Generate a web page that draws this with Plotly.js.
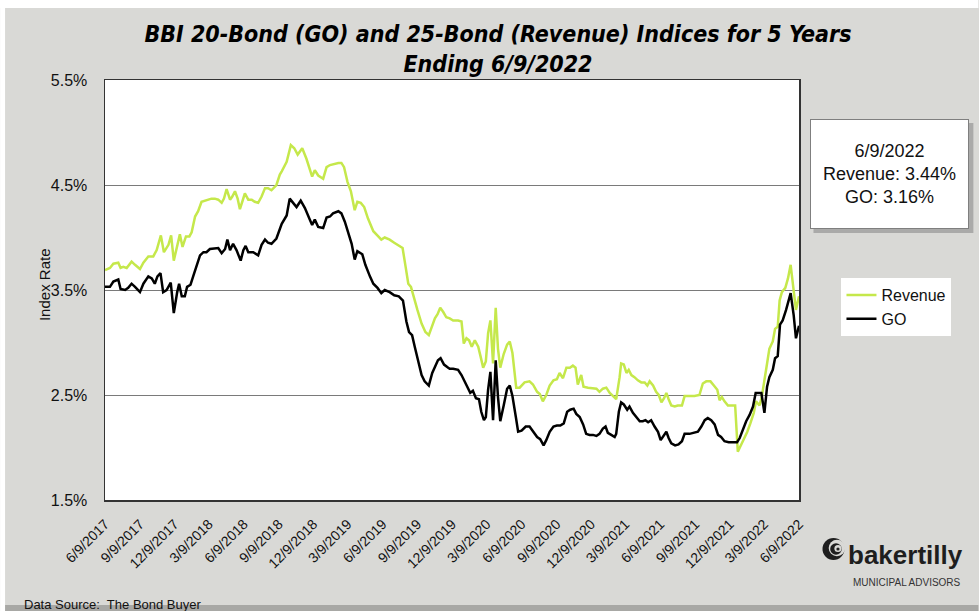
<!DOCTYPE html>
<html><head><meta charset="utf-8">
<script src="https://cdn.plot.ly/plotly-3.0.1.min.js"></script>
<style>html,body{margin:0;padding:0;background:#fff}#chart{width:979px;height:611px}</style>
</head><body><div id="chart"></div>
<script>
const seriesNames = ['Revenue', 'GO'];

const revenueDates = [
'2017-06-09','2017-06-22','2017-07-01','2017-07-14','2017-07-20','2017-07-27','2017-08-05','2017-08-18','2017-08-27','2017-09-09',
'2017-09-18','2017-10-01','2017-10-14','2017-10-23','2017-11-03','2017-11-11','2017-11-23','2017-11-30','2017-12-07','2017-12-16',
'2017-12-23','2017-12-30','2018-01-08','2018-01-17','2018-01-23','2018-02-01','2018-02-09','2018-02-18','2018-02-27','2018-03-08',
'2018-03-16','2018-03-25','2018-04-03','2018-04-12','2018-04-18','2018-04-25','2018-05-04','2018-05-10','2018-05-17','2018-05-24',
'2018-05-30','2018-06-06','2018-06-12','2018-06-21','2018-06-30','2018-07-08','2018-07-17','2018-07-26','2018-08-04','2018-08-12',
'2018-08-21','2018-09-03','2018-09-12','2018-09-17','2018-09-30','2018-10-11','2018-10-20','2018-10-29','2018-11-10','2018-11-21',
'2018-11-30','2018-12-06','2018-12-13','2018-12-22','2019-01-04','2019-01-13','2019-01-22','2019-01-30','2019-02-13','2019-02-21',
'2019-02-28','2019-03-09','2019-03-18','2019-03-28','2019-04-04','2019-04-13','2019-04-22','2019-05-02','2019-05-16','2019-05-29',
'2019-06-06','2019-06-15','2019-06-28','2019-07-10','2019-07-22','2019-08-01','2019-08-09','2019-08-16','2019-08-23','2019-08-31',
'2019-09-09','2019-09-20','2019-09-30','2019-10-09','2019-10-16','2019-10-25','2019-11-01','2019-11-08','2019-11-16','2019-11-24',
'2019-12-03','2019-12-12','2019-12-25','2020-01-03','2020-01-09','2020-01-16','2020-01-23','2020-01-30','2020-02-07','2020-02-16',
'2020-02-22','2020-02-29','2020-03-07','2020-03-13','2020-03-19','2020-03-26','2020-04-02','2020-04-08','2020-04-14','2020-04-23',
'2020-05-02','2020-05-09','2020-05-16','2020-05-26','2020-06-04','2020-06-17','2020-06-30','2020-07-09','2020-07-20','2020-07-27',
'2020-08-04','2020-08-13','2020-08-22','2020-09-01','2020-09-10','2020-09-17','2020-09-26','2020-10-05','2020-10-14','2020-10-22',
'2020-10-29','2020-11-04','2020-11-13','2020-11-19','2020-12-01','2020-12-14','2020-12-23','2020-12-31','2021-01-09','2021-01-18',
'2021-01-27','2021-02-05','2021-02-13','2021-02-22','2021-02-26','2021-03-05','2021-03-12','2021-03-18','2021-03-25','2021-04-02',
'2021-04-11','2021-04-20','2021-04-29','2021-05-06','2021-05-12','2021-05-21','2021-05-29','2021-06-05','2021-06-12','2021-06-19',
'2021-06-25','2021-07-01','2021-07-08','2021-07-17','2021-07-25','2021-08-05','2021-08-12','2021-08-25','2021-09-07','2021-09-20',
'2021-09-29','2021-10-08','2021-10-19','2021-10-28','2021-11-06','2021-11-12','2021-11-18','2021-11-25','2021-12-04','2021-12-13',
'2021-12-23','2021-12-30','2022-01-06','2022-01-15','2022-01-24','2022-02-01','2022-02-10','2022-02-16','2022-02-25','2022-03-03',
'2022-03-10','2022-03-17','2022-03-23','2022-04-01','2022-04-07','2022-04-14','2022-04-19','2022-04-25','2022-05-04','2022-05-11',
'2022-05-18','2022-05-26','2022-06-01','2022-06-09'
];
const revenueValues = [
3.69,3.71,3.75,3.76,3.71,3.72,3.71,3.77,3.74,3.70,
3.76,3.82,3.82,3.88,4.02,3.86,3.93,4.02,3.78,3.93,
4.03,3.91,4.01,4.01,4.05,4.20,4.25,4.34,4.35,4.36,
4.37,4.37,4.36,4.33,4.37,4.46,4.36,4.39,4.44,4.37,
4.27,4.35,4.42,4.36,4.36,4.34,4.33,4.39,4.47,4.47,
4.45,4.50,4.60,4.63,4.72,4.88,4.85,4.79,4.85,4.75,
4.66,4.58,4.64,4.59,4.56,4.67,4.69,4.70,4.71,4.71,
4.67,4.53,4.44,4.26,4.34,4.33,4.29,4.18,4.06,4.01,
3.98,4.00,3.98,3.95,3.92,3.90,3.72,3.56,3.53,3.42,
3.31,3.18,3.10,3.07,3.15,3.23,3.27,3.33,3.29,3.24,
3.23,3.21,3.21,3.20,2.99,3.04,3.02,2.96,3.02,2.96,
2.87,2.76,2.82,3.09,3.21,2.80,3.33,2.94,2.76,2.89,
2.98,3.01,2.90,2.57,2.57,2.62,2.63,2.60,2.53,2.51,
2.44,2.50,2.59,2.64,2.65,2.71,2.66,2.76,2.76,2.78,
2.76,2.60,2.69,2.58,2.57,2.56,2.56,2.53,2.56,2.57,
2.52,2.49,2.46,2.67,2.80,2.79,2.71,2.74,2.69,2.67,
2.64,2.62,2.62,2.59,2.63,2.59,2.53,2.50,2.43,2.47,
2.52,2.46,2.40,2.39,2.40,2.40,2.49,2.49,2.49,2.50,
2.61,2.63,2.63,2.59,2.55,2.45,2.48,2.44,2.40,2.40,
2.40,1.96,2.01,2.09,2.15,2.23,2.33,2.44,2.40,2.48,
2.66,2.80,2.94,3.01,3.13,3.15,3.40,3.48,3.52,3.61,
3.74,3.50,3.31,3.44
];

const goDates = [
'2017-06-09','2017-06-22','2017-07-01','2017-07-14','2017-07-20','2017-08-01','2017-08-09','2017-08-18','2017-08-27','2017-09-09',
'2017-09-18','2017-10-01','2017-10-10','2017-10-18','2017-10-25','2017-11-02','2017-11-09','2017-11-18','2017-11-29','2017-12-07',
'2017-12-16','2017-12-21','2017-12-28','2018-01-05','2018-01-11','2018-01-20','2018-01-27','2018-02-05','2018-02-14','2018-02-23',
'2018-03-03','2018-03-12','2018-03-25','2018-04-03','2018-04-12','2018-04-21','2018-04-27','2018-05-04','2018-05-12','2018-05-21',
'2018-06-01','2018-06-08','2018-06-14','2018-06-21','2018-07-04','2018-07-17','2018-07-26','2018-08-04','2018-08-12','2018-08-21',
'2018-09-03','2018-09-12','2018-09-17','2018-09-30','2018-10-08','2018-10-17','2018-10-26','2018-11-06','2018-11-17','2018-11-30',
'2018-12-06','2018-12-13','2018-12-22','2019-01-04','2019-01-13','2019-01-22','2019-01-30','2019-02-13','2019-02-21','2019-03-02',
'2019-03-11','2019-03-20','2019-03-28','2019-04-04','2019-04-17','2019-04-25','2019-05-07','2019-05-16','2019-05-27','2019-06-06',
'2019-06-15','2019-06-28','2019-07-10','2019-07-22','2019-08-02','2019-08-11','2019-08-18','2019-08-26','2019-09-02','2019-09-11',
'2019-09-20','2019-09-28','2019-10-09','2019-10-18','2019-10-26','2019-11-02','2019-11-09','2019-11-18','2019-11-29','2019-12-03',
'2019-12-12','2019-12-25','2020-01-03','2020-01-12','2020-01-20','2020-01-26','2020-02-02','2020-02-10','2020-02-18','2020-02-24',
'2020-03-02','2020-03-07','2020-03-13','2020-03-19','2020-03-26','2020-04-02','2020-04-08','2020-04-14','2020-04-23','2020-05-02',
'2020-05-09','2020-05-16','2020-05-25','2020-05-31','2020-06-09','2020-06-20','2020-06-30','2020-07-09','2020-07-20','2020-07-28',
'2020-08-06','2020-08-13','2020-08-22','2020-09-01','2020-09-10','2020-09-19','2020-09-28','2020-10-07','2020-10-15','2020-10-24',
'2020-10-31','2020-11-09','2020-11-18','2020-11-26','2020-12-05','2020-12-14','2020-12-23','2020-12-31','2021-01-09','2021-01-16',
'2021-01-22','2021-01-31','2021-02-09','2021-02-13','2021-02-20','2021-02-26','2021-03-05','2021-03-14','2021-03-20','2021-03-29',
'2021-04-07','2021-04-16','2021-04-24','2021-05-01','2021-05-08','2021-05-16','2021-05-25','2021-06-03','2021-06-10','2021-06-16',
'2021-06-25','2021-07-01','2021-07-08','2021-07-18','2021-07-27','2021-08-05','2021-08-12','2021-08-25','2021-09-07','2021-09-16',
'2021-09-25','2021-10-04','2021-10-12','2021-10-21','2021-10-30','2021-11-08','2021-11-16','2021-11-25','2021-12-06','2021-12-17',
'2021-12-28','2022-01-04','2022-01-12','2022-01-21','2022-01-30','2022-02-08','2022-02-15','2022-02-23','2022-03-02','2022-03-10',
'2022-03-17','2022-03-23','2022-04-01','2022-04-07','2022-04-14','2022-04-20','2022-04-27','2022-05-06','2022-05-12','2022-05-18',
'2022-05-26','2022-06-01','2022-06-09'
];
const goValues = [
3.53,3.53,3.58,3.60,3.51,3.50,3.52,3.56,3.53,3.48,
3.56,3.63,3.61,3.56,3.63,3.66,3.48,3.50,3.57,3.28,
3.48,3.56,3.44,3.44,3.53,3.55,3.63,3.72,3.83,3.86,
3.86,3.89,3.90,3.90,3.85,3.89,3.98,3.88,3.94,3.88,
3.78,3.88,3.92,3.86,3.86,3.83,3.93,3.98,3.95,3.94,
3.99,4.09,4.13,4.21,4.37,4.33,4.29,4.35,4.28,4.17,
4.12,4.17,4.10,4.09,4.19,4.20,4.23,4.25,4.23,4.15,
4.04,3.94,3.79,3.87,3.84,3.74,3.63,3.56,3.52,3.47,
3.50,3.48,3.45,3.44,3.40,3.20,3.10,3.07,2.96,2.83,
2.69,2.63,2.59,2.71,2.77,2.83,2.85,2.79,2.76,2.75,
2.75,2.74,2.69,2.62,2.56,2.52,2.54,2.47,2.46,2.34,
2.26,2.29,2.55,2.72,2.26,2.83,2.48,2.25,2.40,2.56,
2.59,2.49,2.29,2.15,2.16,2.20,2.20,2.16,2.10,2.08,
2.02,2.07,2.15,2.20,2.21,2.21,2.23,2.34,2.36,2.37,
2.32,2.29,2.22,2.13,2.12,2.12,2.11,2.13,2.18,2.20,
2.14,2.12,2.10,2.13,2.34,2.43,2.41,2.36,2.39,2.33,
2.29,2.25,2.25,2.26,2.24,2.26,2.20,2.15,2.07,2.10,
2.15,2.09,2.04,2.02,2.03,2.06,2.13,2.13,2.14,2.15,
2.20,2.26,2.28,2.26,2.22,2.12,2.10,2.06,2.05,2.05,
2.05,2.09,2.17,2.25,2.31,2.39,2.52,2.52,2.52,2.33,
2.58,2.67,2.74,2.85,2.87,3.17,3.21,3.31,3.39,3.47,
3.26,3.04,3.16
];

const tickDates = ['2017-06-09','2017-09-09','2017-12-09','2018-03-09','2018-06-09','2018-09-09','2018-12-09',
  '2019-03-09','2019-06-09','2019-09-09','2019-12-09','2020-03-09','2020-06-09','2020-09-09','2020-12-09',
  '2021-03-09','2021-06-09','2021-09-09','2021-12-09','2022-03-09','2022-06-09'];
const tickLabels = ['6/9/2017','9/9/2017','12/9/2017','3/9/2018','6/9/2018','9/9/2018','12/9/2018',
  '3/9/2019','6/9/2019','9/9/2019','12/9/2019','3/9/2020','6/9/2020','9/9/2020','12/9/2020',
  '3/9/2021','6/9/2021','9/9/2021','12/9/2021','3/9/2022','6/9/2022'];
const yTickValues = [1.5, 2.5, 3.5, 4.5, 5.5];
const yTickLabels = ['1.5%', '2.5%', '3.5%', '4.5%', '5.5%'];
const yAxisTitle = 'Index Rate';

const latestLabel = '6/9/2022';
const latestRevenue = 3.44;
const latestGO = 3.16;

// layout helpers (pixel -> paper)
const PL = 105, PR = 799.5, PT = 80, PB = 500;
const px = x => (x - PL) / (PR - PL);
const py = y => (PB - y) / (PB - PT);
const BG = '#d9d9d6';
const FONT = 'Liberation Sans, Arial, sans-serif';

function rect(x0, y0, x1, y1, fill, layer, extra) {
  return Object.assign({type: 'rect', xref: 'paper', yref: 'paper', x0: px(x0), x1: px(x1), y0: py(y1), y1: py(y0),
    fillcolor: fill, line: {width: 0}, layer: layer || 'below'}, extra || {});
}
function circ(cx, cy, r, fill) {
  return {type: 'circle', xref: 'paper', yref: 'paper', x0: px(cx - r), x1: px(cx + r), y0: py(cy + r), y1: py(cy - r),
    fillcolor: fill, line: {width: 0}, layer: 'above'};
}

const traces = [
  {type: 'scatter', mode: 'lines', name: seriesNames[0], x: revenueDates, y: revenueValues,
   line: {color: '#c5e84b', width: 2.5}},
  {type: 'scatter', mode: 'lines', name: seriesNames[1], x: goDates, y: goValues,
   line: {color: '#000000', width: 2.5}}
];

const layout = {
  width: 979, height: 611,
  paper_bgcolor: BG, plot_bgcolor: '#ffffff',
  font: {family: FONT, color: '#111'},
  margin: {l: PL, r: 979 - PR, t: PT, b: 611 - PB, pad: 0},
  title: {
    text: '<b><i>BBI 20-Bond (GO) and 25-Bond (Revenue) Indices for 5 Years<br>Ending 6/9/2022</i></b>',
    font: {family: 'Liberation Sans Narrow, Arial Narrow, DejaVu Sans Condensed, Liberation Sans, sans-serif', size: 23, color: '#000'},
    x: 498 / 979, xanchor: 'center', xref: 'container',
    y: 1 - 42 / 611, yanchor: 'top', yref: 'container'
  },
  xaxis: {
    type: 'date', range: ['2017-06-09', '2022-06-09'],
    tickmode: 'array', tickvals: tickDates, ticktext: tickLabels,
    tickangle: -45, tickfont: {size: 14, color: '#111'},
    ticks: '', ticklabelstandoff: 9,
    showgrid: false, zeroline: false,
    showline: true, mirror: true, linecolor: '#333', linewidth: 1.5
  },
  yaxis: {
    range: [1.5, 5.5], tickmode: 'array', tickvals: yTickValues, ticktext: yTickLabels,
    tickfont: {size: 16, color: '#111'}, ticks: '', ticklabelstandoff: 13,
    showgrid: true, gridcolor: '#7a7a7a', gridwidth: 1, zeroline: false,
    showline: true, mirror: true, linecolor: '#333', linewidth: 1.5
  },
  showlegend: true,
  legend: {
    x: px(842), y: py(278), xanchor: 'left', yanchor: 'top',
    bgcolor: '#ffffff', borderwidth: 0, font: {size: 16, color: '#111'},
    itemwidth: 30, tracegroupgap: 0
  },
  shapes: [
    rect(0, 0, 979, 8, '#ffffff'),
    rect(0, 0, 5, 611, '#ffffff'),
    rect(5, 605, 979, 611, '#a8a8a5'),
    rect(814, 123, 974, 233, '#8a8a8a', 'above', {opacity: 0.6}),
    circ(834, 549, 11, '#1e1e1e'),
    circ(837.5, 548, 8.3, BG),
    circ(836.5, 549, 5.8, '#1e1e1e'),
    circ(838.5, 548.5, 3.6, BG),
    circ(838.5, 549, 1.6, '#1e1e1e')
  ],
  annotations: [
    {xref: 'paper', yref: 'paper', x: px(44), y: py(285), xanchor: 'center', yanchor: 'middle', showarrow: false,
     text: yAxisTitle, textangle: -90, font: {size: 15, color: '#111'}},
    {xref: 'paper', yref: 'paper', x: px(890.5), y: py(174), xanchor: 'center', yanchor: 'middle', showarrow: false,
     text: latestLabel + '<br>Revenue: ' + latestRevenue.toFixed(2) + '%<br>GO: ' + latestGO.toFixed(2) + '%',
     font: {size: 18, color: '#111'}, bgcolor: '#ffffff', bordercolor: '#7f7f7f', borderwidth: 1, borderpad: 0,
     width: 157, height: 108, align: 'center'},
    {xref: 'paper', yref: 'paper', x: px(22), y: py(604), xanchor: 'left', yanchor: 'middle', showarrow: false,
     text: 'Data Source:\u00a0 The Bond Buyer', font: {size: 13, color: '#111'}},
    {xref: 'paper', yref: 'paper', x: px(847), y: py(555), xanchor: 'left', yanchor: 'middle', showarrow: false,
     text: '<b>bakertilly</b>', font: {size: 26, color: '#1e1e1e'}},
    {xref: 'paper', yref: 'paper', x: px(852), y: py(582), xanchor: 'left', yanchor: 'middle', showarrow: false,
     text: 'MUNICIPAL ADVISORS', font: {size: 10, color: '#333'}}
  ]
};

Plotly.newPlot('chart', traces, layout, {displayModeBar: false, staticPlot: true});
</script>
</body></html>
